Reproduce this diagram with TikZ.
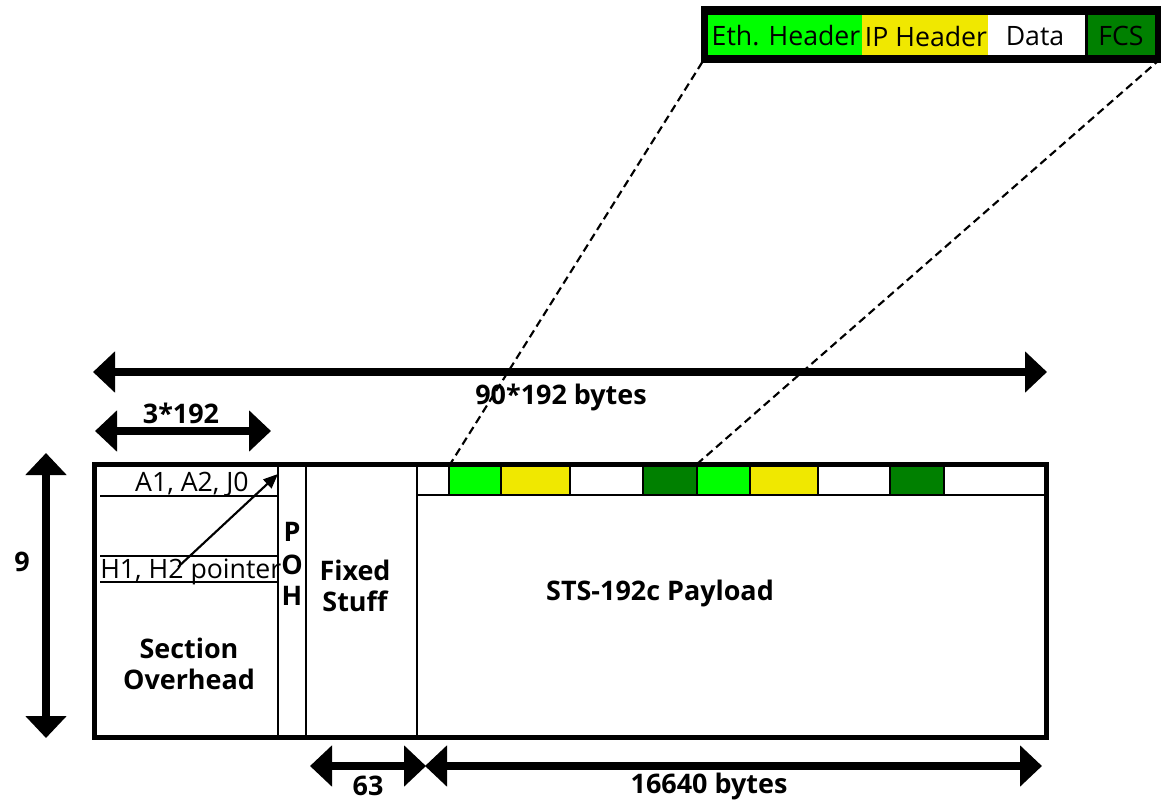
\documentclass[tikz,border=0pt]{standalone}
\usepackage{fontspec}
\setmainfont{Open Sans}
\usetikzlibrary{arrows.meta}
\definecolor{brgreen}{HTML}{00FF00}
\definecolor{ipyellow}{HTML}{F0E800}
\definecolor{dkgreen}{HTML}{008000}
\begin{document}
\begin{tikzpicture}[x=0.75pt,y=-0.75pt,
  lbl/.style={font=\fontsize{20.2}{23.5}\selectfont\bfseries, inner sep=0pt, align=center},
  txt/.style={font=\fontsize{20}{23}\selectfont, inner sep=0pt},
  dimarrow/.style={line width=5.3pt, {Triangle[length=16.5pt,width=30pt]}-{Triangle[length=16.5pt,width=30pt]}},
  cellline/.style={draw=black, line width=1.2pt},
  thinline/.style={line width=1.6pt},
  zoomline/.style={line width=1.6pt, dash pattern=on 6pt off 3.5pt}]
\useasboundingbox (0,0) rectangle (1161,801);

% ---------- top frame (zoomed packet) ----------
\fill[black] (701,6) rectangle (1161,63);
\fill[brgreen] (708,15) rectangle (862,55);
\fill[ipyellow] (862,15) rectangle (988,55);
\fill[white] (988,15) rectangle (1085,55);
\fill[dkgreen] (1088,15) rectangle (1155,55);
\node[txt] (eth) at (786,36) {Eth. Header};
\node[txt] (iph) at (926,36) {IP Header};
\node[txt] (dat) at (1035,36) {Data};
\node[txt] (fcs) at (1121,36) {FCS};
\coordinate (fbl) at (703,61);
\coordinate (fbr) at (1158,61);

% ---------- payload first row cells ----------
\fill[brgreen] (449,467) rectangle (501,495);
\fill[ipyellow] (501,467) rectangle (570,495);
\fill[dkgreen] (643,467) rectangle (697,495);
\fill[brgreen] (697,467) rectangle (750,495);
\fill[ipyellow] (750,467) rectangle (818,495);
\fill[dkgreen] (890,467) rectangle (944,495);
\draw[cellline] (417,495) -- (1047,495);
\foreach \xx in {449,501,570,643,697,750,818,890,944}{
  \draw[cellline] (\xx,466) -- (\xx,495);
}
\coordinate (c1) at (449,466);
\coordinate (c2) at (697,464);

% ---------- zoom lines ----------
\draw[zoomline] (c1) -- (fbl);
\draw[zoomline] (c2) -- (fbr);

% ---------- section overhead details ----------
\draw[thinline] (100,496) -- (278,496);
\draw[thinline] (100,556) -- (277,556);
\draw[thinline] (100,582) -- (277,582);
\node[txt, anchor=base east] (a1) at (249,491) {A1, A2, J0};
\node[txt, anchor=base west] (h1) at (100,578) {H1, H2 pointer};
\coordinate (h1s) at (178,567);
\coordinate (a1t) at (278,474);
\draw[thinline, -{Triangle[length=11pt,width=9pt]}] (h1s) -- (a1t);

% ---------- vertical separators ----------
\draw[thinline] (278,464) -- (278,738);
\draw[thinline] (306,464) -- (306,738);
\draw[thinline] (417,464) -- (417,738);

% ---------- labels inside ----------
\node[lbl] (p) at (292,532) {P};
\node[lbl] (o) at (292,565) {O};
\node[lbl] (h) at (292,596) {H};
\node[lbl] (fixed) at (355,586) {Fixed\\Stuff};
\node[lbl] (sect) at (189,664) {Section\\Overhead};
\node[lbl] (sts) at (660,593) {STS-192c Payload};

% ---------- main box ----------
\draw[line width=3.75pt] (94.5,464.5) rectangle (1046.5,737.5);

% ---------- dimension arrows ----------
\coordinate (w1) at (93,372);
\coordinate (w2) at (1047,372);
\draw[dimarrow, line width=6pt] (w1) -- (w2);
\node[lbl] (wl) at (561,397) {90*192 bytes};

\coordinate (s1) at (95,431);
\coordinate (s2) at (271,431);
\draw[dimarrow] (s1) -- (s2);
\node[lbl] (sl) at (181,413) {3*192};

\coordinate (v1) at (46,453);
\coordinate (v2) at (46,738);
\draw[dimarrow] (v1) -- (v2);
\node[lbl] (vl) at (22,562) {9};

\coordinate (f1) at (310,766);
\coordinate (f2) at (426,766);
\draw[dimarrow] (f1) -- (f2);
\node[lbl] (fl) at (368,786) {63};

\coordinate (p1) at (425,766);
\coordinate (p2) at (1042,766);
\draw[dimarrow] (p1) -- (p2);
\node[lbl] (pl) at (709,786) {16640 bytes};
\end{tikzpicture}
\end{document}
